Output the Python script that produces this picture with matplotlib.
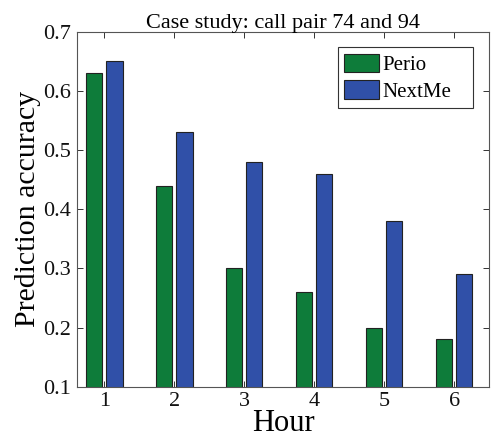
import matplotlib
matplotlib.use("Agg")
import matplotlib.pyplot as plt
from matplotlib.patches import Rectangle
import numpy as np

hours = [1, 2, 3, 4, 5, 6]
perio = [0.63, 0.44, 0.30, 0.26, 0.20, 0.18]
nextme = [0.65, 0.53, 0.48, 0.46, 0.38, 0.29]
yticks = [0.1, 0.2, 0.3, 0.4, 0.5, 0.6, 0.7]

plt.rcParams['font.family'] = ['Liberation Serif', 'DejaVu Serif']

fig = plt.figure(figsize=(4.93, 4.40), dpi=100)
ax = fig.add_axes([0.156, 0.121, 0.836, 0.807])

x = np.array(hours, dtype=float)
w = 0.23
off = 0.147
ax.bar(x - off, perio, width=w, bottom=0, color='#0E7C3A', edgecolor='#222222',
       linewidth=0.8, label='Perio')
ax.bar(x + off, nextme, width=w, bottom=0, color='#3050A8', edgecolor='#222222',
       linewidth=0.8, label='NextMe')

ax.set_xlim(0.61, 6.5)
ax.set_ylim(0.1, 0.7)
ax.set_xticks(hours)
ax.set_xticklabels([str(h) for h in hours])
ax.set_yticks(yticks)
ax.set_yticklabels([f"{v:.1f}" for v in yticks])
ax.tick_params(direction='in', top=True, right=True, length=4, width=0.7,
               labelsize=16, colors='#333333', labelcolor='#111111', pad=4)
for s in ax.spines.values():
    s.set_color('#555555')
    s.set_linewidth(0.8)

ax.set_title('Case study: call pair 74 and 94', fontsize=16, pad=3)
ax.set_xlabel('Hour', fontsize=22, labelpad=-2)
ax.set_ylabel('Prediction accuracy', fontsize=21.5, labelpad=2)

# legend box (MATLAB style, extra padding on the right)
ax.add_patch(Rectangle((0.633, 0.785), 0.961 - 0.633, 0.956 - 0.785,
                       transform=ax.transAxes, facecolor='white',
                       edgecolor='#333333', linewidth=0.8, zorder=4))
leg = ax.legend(loc='upper left', bbox_to_anchor=(0.633, 0.956), fontsize=15,
                frameon=False, handlelength=1.7, handleheight=1.0,
                handletextpad=0.15, borderpad=0.3, labelspacing=0.25, borderaxespad=0)
leg.set_zorder(5)

fig.savefig('out.png', dpi=100)
